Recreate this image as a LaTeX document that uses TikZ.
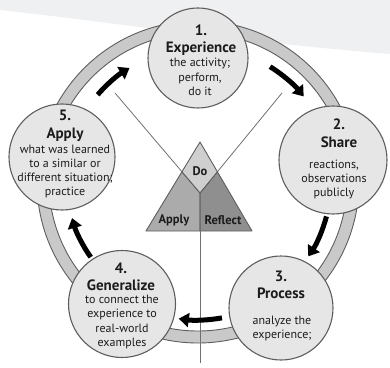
\documentclass[tikz,border=0pt]{standalone}
\usepackage{fontspec}
\setmainfont{PT Sans}
\usetikzlibrary{arrows.meta}

\definecolor{paper}{HTML}{EFF0F2}
\definecolor{ringgray}{HTML}{C9C9C9}
\definecolor{stagegray}{HTML}{E6E6E6}
\definecolor{edgegray}{HTML}{5E5E5E}
\definecolor{linegray}{HTML}{707070}
\definecolor{dogray}{HTML}{CFCFCF}
\definecolor{applygray}{HTML}{ABABAB}
\definecolor{reflectgray}{HTML}{8F8F8F}
\definecolor{ink}{HTML}{1C1C1C}

\begin{document}
\begin{tikzpicture}
  [x=1pt, y=1pt,
   stage/.style={circle, draw=edgegray, line width=1.1pt, fill=stagegray, minimum size=#1},
   head/.style={align=center, inner sep=0pt, text=ink, font=\fontsize{15}{17.5}\selectfont\bfseries},
   body/.style={align=center, inner sep=0pt, text=ink, font=\fontsize{12}{14.3}\selectfont},
   part/.style={align=center, inner sep=0pt, text=ink, font=\fontsize{12.5}{13}\selectfont\bfseries},
   flow/.style={line width=5pt, -{Triangle[length=10pt,width=14pt]}},
   guide/.style={draw=linegray, line width=0.8pt},
   region/.style={draw=edgegray, line width=0.9pt, line join=round}]
  \useasboundingbox (0,0) rectangle (390,367);
  \fill[paper] (0,367) -- (390,367) -- (390,313) .. controls (230,326) and (110,345) .. (0,357) -- cycle;

  \coordinate (O) at (198,185);
  \draw[fill=ringgray, draw=edgegray, line width=0.9pt, even odd rule]
    (O) circle[radius=161] (O) circle[radius=149];

  \coordinate (l5) at (115,274);
  \coordinate (l2) at (282,274);
  \coordinate (T) at (200,225);
  \coordinate (BL) at (146,136);
  \coordinate (BR) at (252,136);
  \coordinate (D) at (200,174);
  \coordinate (M) at (200,136);
  \coordinate (v) at (200,4);
  \coordinate (Lv) at (intersection of T--BL and l5--D);
  \coordinate (Rv) at (intersection of T--BR and l2--D);
  \draw[guide] (l5) -- (D);
  \draw[guide] (l2) -- (D);
  \draw[region, fill=applygray] (Lv) -- (D) -- (M) -- (BL) -- cycle;
  \draw[region, fill=reflectgray] (Rv) -- (D) -- (M) -- (BR) -- cycle;
  \draw[region, fill=dogray] (T) -- (Lv) -- (D) -- (Rv) -- cycle;
  \draw[guide] (D) -- (v);
  \node[part] (do) at (200,196) {Do};
  \node[part] (ap) at (174,147) {Apply};
  \node[part] (re) at (223,147) {Reflect};

  \node[stage=100pt] (s1) at (198,309) {};
  \node[stage=108pt] (s2) at (333,207) {};
  \node[stage=104pt] (s3) at (281,59) {};
  \node[stage=107pt] (s4) at (122,63) {};
  \node[stage=106pt] (s5) at (62,210) {};

  \node[head] (h1) at (201,327) {1.\\Experience};
  \node[body] (b1) at (200,290) {the activity;\\perform,\\do it};
  \node[head] (h2) at (339,233.5) {2.\\Share};
  \node[body] (b2) at (334,187.5) {reactions,\\observations\\publicly};
  \node[head] (h3) at (281,82) {3.\\Process};
  \node[body] (b3) at (282,38.5) {analyze the\\experience;};
  \node[head] (h4) at (121,90) {4.\\Generalize};
  \node[body] (b4) at (122,45) {to connect the\\experience to\\real-world\\examples};
  \node[head] (h5) at (65,241) {5.\\Apply};
  \node[body] (b5) at (65,195.5) {what was learned\\to a similar or\\different situation;\\practice};

  \coordinate (a1) at ([shift={(58:136)}]O);
  \coordinate (a2) at ([shift={(-15:133)}]O);
  \coordinate (a3) at ([shift={(-80:138)}]O);
  \coordinate (a4) at ([shift={(215:131)}]O);
  \coordinate (a5) at ([shift={(139:133)}]O);
  \draw[flow] (a1) arc[start angle=58, end angle=39, radius=136];
  \draw[flow] (a2) arc[start angle=-15, end angle=-34, radius=133];
  \draw[flow] (a3) arc[start angle=-80, end angle=-98, radius=138];
  \draw[flow] (a4) arc[start angle=215, end angle=196, radius=131];
  \draw[flow] (a5) arc[start angle=139, end angle=121, radius=133];
\end{tikzpicture}
\end{document}
